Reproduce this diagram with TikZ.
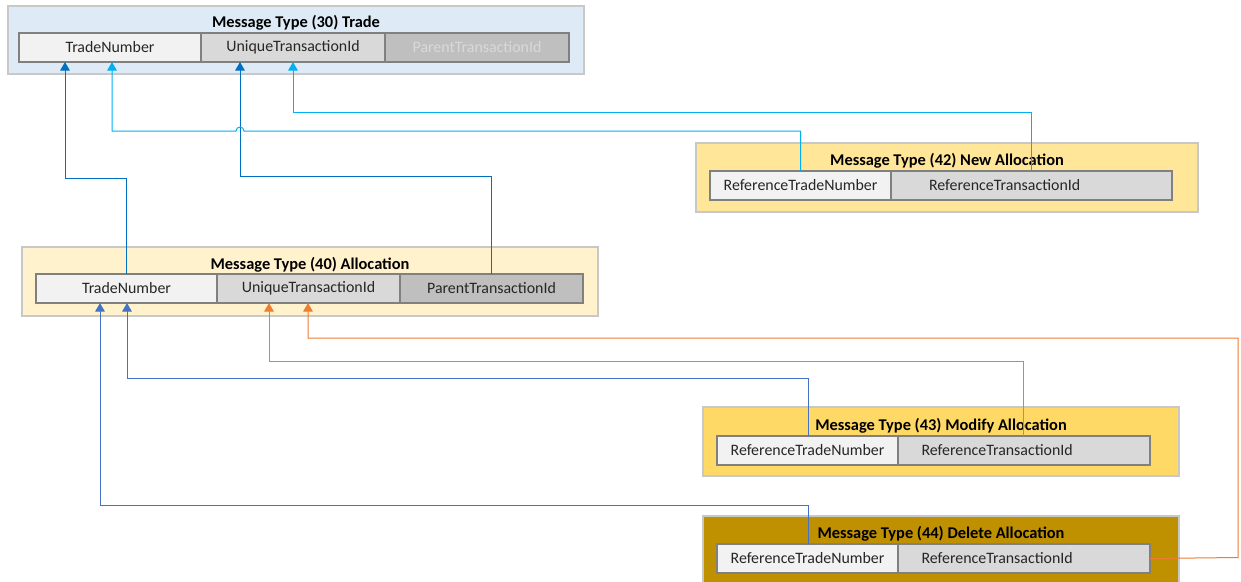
\documentclass[tikz,border=0pt]{standalone}
\usepackage{fontspec}
\setmainfont{Carlito}
\usepackage{xcolor}
\usepackage{tikz}
\usetikzlibrary{positioning,arrows.meta}
\tikzset{
  msgbox/.style={rectangle, draw=boxline, line width=2pt, anchor=north west, outer sep=0pt},
  title/.style={font=\fontsize{16.4}{19}\selectfont\bfseries, text=black, inner sep=0pt},
  fld/.style={rectangle, draw=fldline, line width=1.5pt, minimum height=29pt, outer sep=0pt,
              inner sep=0pt, font=\fontsize{15.9}{18}\selectfont, text=black!85},
  refid/.style={fld, text width=205pt, align=left, inner xsep=#1},
  arr/.style={-{Triangle[length=8.5pt, width=9.5pt]}, line width=1pt},
}
\definecolor{boxline}{HTML}{C8C8C8}
\definecolor{fldline}{HTML}{808080}
\definecolor{tradefill}{HTML}{DEEBF7}
\definecolor{allocfill}{HTML}{FFF2CC}
\definecolor{newfill}{HTML}{FFE699}
\definecolor{modfill}{HTML}{FFD966}
\definecolor{delfill}{HTML}{BF9000}
\definecolor{fa}{HTML}{F2F2F2}
\definecolor{fb}{HTML}{D9D9D9}
\definecolor{fc}{HTML}{BFBFBF}
\definecolor{dkblue}{HTML}{0070C0}
\definecolor{ltblue}{HTML}{00B0F0}
\definecolor{alblue}{HTML}{4472C4}
\definecolor{orng}{HTML}{ED7D31}

\begin{document}
\begin{tikzpicture}[x=1pt, y=-1pt]
    \clip (0,0) rectangle (1241,581);

    %% --- (30) Trade ---
    \node[msgbox, fill=tradefill, minimum width=576pt, minimum height=68pt] (m30) at (8,6) {};
    \node[title, below=9pt of m30.north] (m30t) {Message Type (30) Trade};
    \node[fld, fill=fa, minimum width=182pt, anchor=north west] (t30num) at (19,33) {TradeNumber};
    \node[fld, fill=fb, minimum width=184pt, right=0pt of t30num] (t30uid) {UniqueTransactionId};
    \node[fld, fill=fc, minimum width=184pt, right=0pt of t30uid, text=fb] (t30pid) {ParentTransactionId};

    %% --- (42) New Allocation ---
    \node[msgbox, fill=newfill, minimum width=502pt, minimum height=69pt] (m42) at (696,143) {};
    \node[title, below=10pt of m42.north] (m42t) {Message Type (42) New Allocation};
    \node[fld, fill=fa, minimum width=181pt, anchor=north west] (r42num) at (710,171) {ReferenceTradeNumber};
    \node[refid=38pt, fill=fb, minimum width=281pt, right=0pt of r42num] (r42uid) {ReferenceTransactionId};

    %% --- (40) Allocation ---
    \node[msgbox, fill=allocfill, minimum width=576pt, minimum height=69pt] (m40) at (22,247) {};
    \node[title, below=10pt of m40.north] (m40t) {Message Type (40) Allocation};
    \node[fld, fill=fa, minimum width=181pt, anchor=north west] (a40num) at (36,274) {TradeNumber};
    \node[fld, fill=fb, minimum width=183pt, right=0pt of a40num] (a40uid) {UniqueTransactionId};
    \node[fld, fill=fc, minimum width=183pt, right=0pt of a40uid] (a40pid) {ParentTransactionId};

    %% --- (43) Modify Allocation ---
    \node[msgbox, fill=modfill, minimum width=476pt, minimum height=69pt] (m43) at (703,407) {};
    \node[title, below=11pt of m43.north] (m43t) {Message Type (43) Modify Allocation};
    \node[fld, fill=fa, minimum width=181pt, anchor=north west] (r43num) at (717,436) {ReferenceTradeNumber};
    \node[refid=23pt, fill=fb, minimum width=252pt, right=0pt of r43num] (r43uid) {ReferenceTransactionId};

    %% --- (44) Delete Allocation ---
    \node[msgbox, fill=delfill, minimum width=476pt, minimum height=69pt] (m44) at (703,516) {};
    \node[title, below=10pt of m44.north] (m44t) {Message Type (44) Delete Allocation};
    \node[fld, fill=fa, minimum width=181pt, anchor=north west] (r44num) at (717,544) {ReferenceTradeNumber};
    \node[refid=23pt, fill=fb, minimum width=252pt, right=0pt of r44num] (r44uid) {ReferenceTransactionId};

    %% --- links to (30) ---
    \draw[arr, dkblue] (a40num.north) |- (65,178) -- ([xshift=46pt]t30num.south west);
    \draw[arr, dkblue] (a40pid.north) |- (240,176) -- ([xshift=39pt]t30uid.south west);
    \draw[arr, ltblue] (r42num.north) |- (244,131) arc[start angle=0, end angle=180, radius=4pt]
        -| ([xshift=93pt]t30num.south west);
    \draw[arr, ltblue] ([xshift=140pt]r42uid.north west) |- ([xshift=92pt]t30uid.south west |- 0,112)
        -- ([xshift=92pt]t30uid.south west);

    %% --- links to (40) ---
    \draw[arr, alblue] ([xshift=1pt]r43num.north) |- ([xshift=91pt]a40num.south west |- 0,378)
        -- ([xshift=91pt]a40num.south west);
    \draw[arr, orng] ([xshift=125pt]r43uid.north west) |- ([xshift=52pt]a40uid.south west |- 0,361)
        -- ([xshift=52pt]a40uid.south west);
    \draw[arr, alblue] ([xshift=1pt]r44num.north) |- ([xshift=64pt]a40num.south west |- 0,505)
        -- ([xshift=64pt]a40num.south west);
    \draw[arr, orng] (r44uid.east) -- (1238,557.5) |- ([xshift=91pt]a40uid.south west |- 0,338)
        -- ([xshift=91pt]a40uid.south west);
\end{tikzpicture}
\end{document}
